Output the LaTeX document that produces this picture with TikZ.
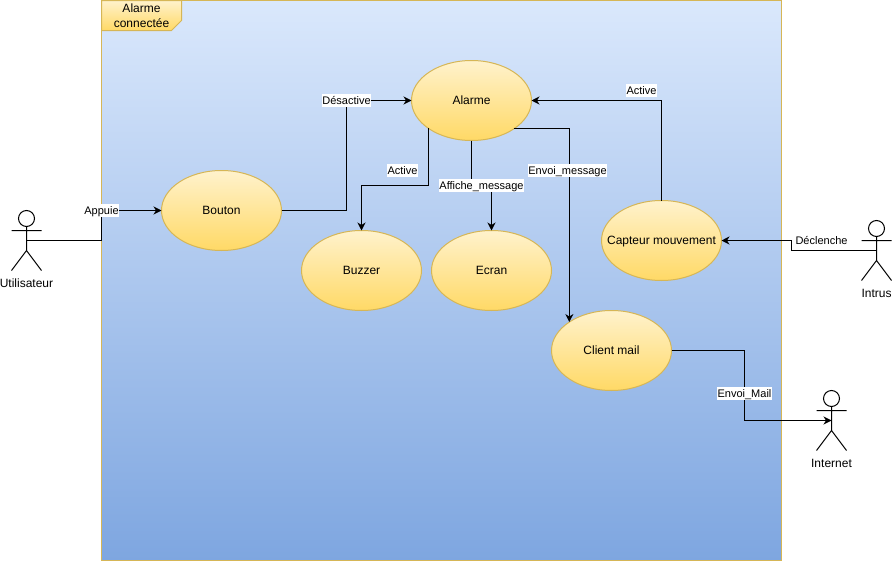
\documentclass[tikz,border=0pt]{standalone}
\usepackage{fontspec}
\setmainfont{Liberation Sans}
\usetikzlibrary{arrows.meta,shapes.geometric}
\newcommand{\uctext}[1]{\raisebox{0pt}[8.6pt][0pt]{\makebox[0pt]{#1}}}
\definecolor{frameTop}{HTML}{DAE8FC}
\definecolor{frameBot}{HTML}{7EA6E0}
\definecolor{ucTop}{HTML}{FFF2CC}
\definecolor{ucBot}{HTML}{FFD966}
\definecolor{goldline}{HTML}{D6B656}
\tikzset{
  usecase/.style={ellipse,draw=goldline,line width=1pt,top color=ucTop,bottom color=ucBot,minimum width=120pt,minimum height=80pt,inner sep=0pt,outer sep=0pt,font=\fontsize{12}{14}\selectfont},
  conn/.style={draw=black,line width=1pt,-{Stealth[length=8pt,width=8pt,inset=2.5pt]}},
  edgelabel/.style={fill=white,inner xsep=0.5pt,inner ysep=0.85pt,text height=9pt,text depth=2pt,font=\fontsize{11}{13}\selectfont},
  actorlabel/.style={inner sep=0pt,text height=8.6pt,text depth=0pt,font=\fontsize{12}{14}\selectfont},
  stick/.style={draw=black,line width=1pt},
  head/.style={circle,draw=black,line width=1pt,minimum size=16pt,inner sep=0pt,outer sep=0pt}
}
\begin{document}
\begin{tikzpicture}[x=1pt,y=-1pt]
\useasboundingbox[fill=white] (0,0) rectangle (892,562);
% system frame
\shade[top color=frameTop,bottom color=frameBot] (101.5,0.5) rectangle (781.5,560.5);
\draw[goldline,line width=1pt] (101.5,0.5) rectangle (781.5,560.5);
\draw[goldline,line width=1pt,top color=ucTop,bottom color=ucBot] (101.5,0.5) -- (181.5,0.5) -- (181.5,20.5) -- (171.5,30.5) -- (101.5,30.5) -- cycle;
\node[align=center,inner sep=0pt,font=\fontsize{12}{14.5}\selectfont] (title) at (141.5,15.5) {Alarme\\connectée};
% use cases
\node[usecase] (bouton) at (221.5,210.5) {\uctext{Bouton}};
\node[usecase] (alarme) at (471.5,100.5) {\uctext{Alarme}};
\node[usecase] (buzzer) at (361.5,270.5) {\uctext{Buzzer}};
\node[usecase] (ecran) at (491.5,270.5) {\uctext{Ecran}};
\node[usecase] (capteur) at (661.5,240.5) {\uctext{Capteur mouvement}};
\node[usecase] (client) at (611.5,350.5) {\uctext{Client mail}};
% actors
\node[head] (headU) at (26.5,218.5) {};
\draw[stick] (headU.south) -- (26.5,250.5) -- (11.5,270.5) (26.5,250.5) -- (41.5,270.5) (11.5,230.5) -- (41.5,230.5);
\coordinate (handU) at (26.5,240.5);
\node[actorlabel] (utilisateur) at (26.5,283.5) {Utilisateur};
\node[head] (headI) at (876.5,228.5) {};
\draw[stick] (headI.south) -- (876.5,260.5) -- (861.5,280.5) (876.5,260.5) -- (891.5,280.5) (861.5,240.5) -- (891.5,240.5);
\coordinate (handI) at (876.5,250.5);
\node[actorlabel] (intrus) at (876.5,293.5) {Intrus};
\node[head] (headN) at (831.5,398.5) {};
\draw[stick] (headN.south) -- (831.5,430.5) -- (816.5,450.5) (831.5,430.5) -- (846.5,450.5) (816.5,410.5) -- (846.5,410.5);
\coordinate (handN) at (831.5,420.5);
\node[actorlabel] (internet) at (831.5,463.5) {Internet};
% bends
\coordinate (b1) at (101.5,240.5);
\coordinate (b2) at (346.5,210.5);
\coordinate (b3) at (361.5,185.5);
\coordinate (b4) at (491.5,185.5);
\coordinate (b5) at (791.5,250.5);
\coordinate (b6) at (744.5,350.5);
% connectors
\draw[conn] (handU) -- (b1) |- (bouton.west);
\draw[conn] (bouton.east) -- (b2) |- (alarme.west);
\draw[conn] (capteur.north) |- (alarme.east);
\draw[conn] (alarme.213.5) |- (b3) -- (buzzer.north);
\draw[conn] (alarme.south) |- (b4) -- (ecran.north);
\draw[conn] (alarme.-33.2) -| (client.146.4);
\draw[conn] (handI) -- (b5) |- (capteur.east);
\draw[conn] (client.east) -- (b6) |- (handN);
% labels
\node[edgelabel] (l1) at (101.5,210.5) {Appuie};
\node[edgelabel] (l2) at (346.5,100.5) {Désactive};
\node[edgelabel] (l3) at (641.5,90.5) {Active};
\node[edgelabel] (l4) at (402.5,170.5) {Active};
\node[edgelabel] (l5) at (481.5,185.5) {Affiche\_message};
\node[edgelabel] (l6) at (567.5,170.5) {Envoi\_message};
\node[edgelabel,inner xsep=3pt] (l7) at (821.5,240.5) {Déclenche};
\node[edgelabel] (l8) at (744.5,393.5) {Envoi\_Mail};
\end{tikzpicture}
\end{document}
